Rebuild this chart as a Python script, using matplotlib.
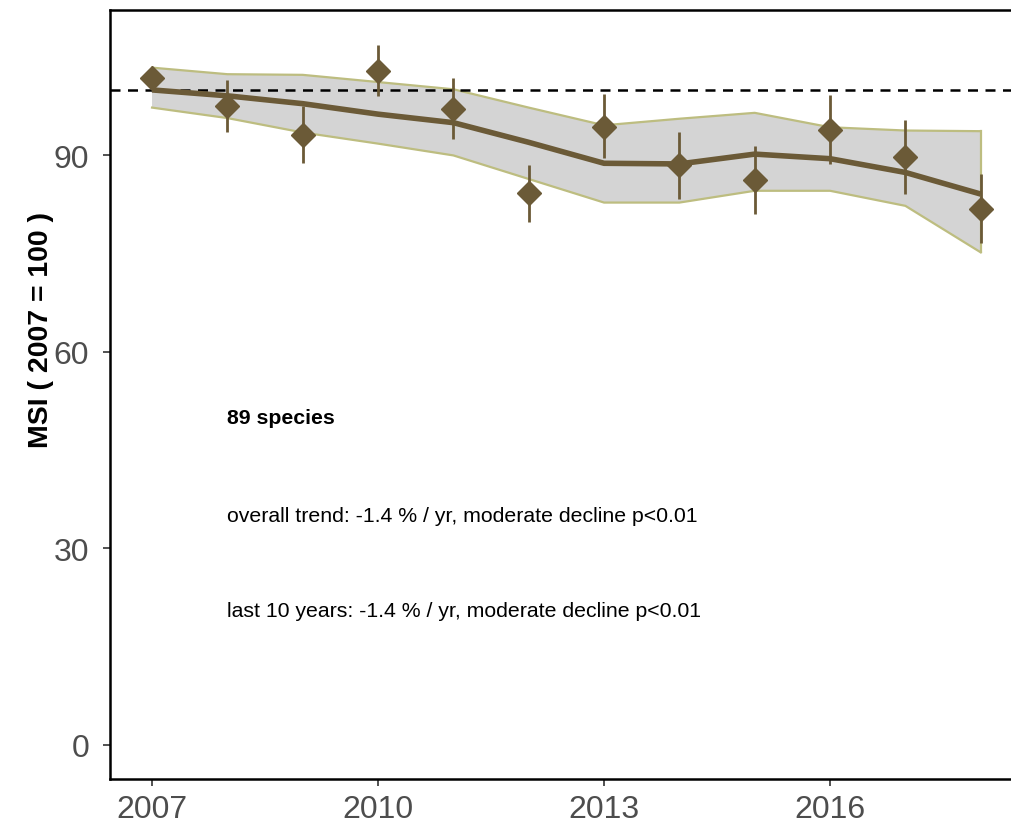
import numpy as np
import matplotlib
matplotlib.use("Agg")
import matplotlib.pyplot as plt

plt.rcParams["font.family"] = ["Liberation Sans", "DejaVu Sans"]

# index values
years = [2007, 2008, 2009, 2010, 2011, 2012, 2013, 2014, 2015, 2016, 2017, 2018]
msi = [101.8, 97.5, 93.1, 102.9, 97.1, 84.2, 94.4, 88.5, 86.2, 93.9, 89.7, 81.8]
msi_hi = [101.8, 101.5, 97.6, 106.9, 101.8, 88.5, 99.3, 93.6, 91.4, 99.2, 95.4, 87.1]
msi_lo = [101.8, 93.6, 88.9, 99.0, 92.5, 79.9, 89.6, 83.4, 81.1, 88.7, 84.1, 76.7]

trend = [100.0, 99.1, 97.9, 96.3, 95.0, 92.0, 88.8, 88.7, 90.2, 89.5, 87.4, 84.1]
band_hi = [103.4, 102.4, 102.3, 101.2, 100.1, 97.3, 94.6, 95.6, 96.5, 94.3, 93.8, 93.7]
band_lo = [97.3, 95.7, 93.5, 91.8, 90.0, 86.4, 82.8, 82.8, 84.6, 84.6, 82.3, 75.2]

notes = ["89 species",
         "overall trend: -1.4 % / yr, moderate decline p<0.01",
         "last 10 years: -1.4 % / yr, moderate decline p<0.01"]
note_y = [50, 35, 20.5]

BROWN = "#6B5A37"
FILL = "#D4D4D4"
EDGE = "#BDBD80"

fig = plt.figure(figsize=(10.11, 8.28), dpi=100)
ax = fig.add_axes([110 / 1011, 1 - 780 / 828, 905 / 1011, 769 / 828])

ax.fill_between(years, band_lo, band_hi, facecolor=FILL, edgecolor="none", zorder=1)
ax.plot(years, band_hi, color=EDGE, linewidth=1.6, zorder=2)
ax.plot(years, band_lo, color=EDGE, linewidth=1.6, zorder=2)
ax.plot([years[-1], years[-1]], [band_lo[-1], band_hi[-1]], color=EDGE, linewidth=1.6, zorder=2)

ax.axhline(100, color="black", linewidth=1.8, linestyle=(0, (4, 3)), zorder=3)
ax.plot(years, trend, color=BROWN, linewidth=4, solid_capstyle="butt", zorder=4)

msi_arr = np.array(msi)
yerr = [msi_arr - np.array(msi_lo), np.array(msi_hi) - msi_arr]
ax.errorbar(years, msi, yerr=yerr, fmt="D", color=BROWN, markersize=12.5,
            elinewidth=2, capsize=0, zorder=5)

for i, (txt, yy) in enumerate(zip(notes, note_y)):
    ax.text(2008, yy, txt, fontsize=15.3, va="center", ha="left",
            fontweight="bold" if i == 0 else "normal", color="black")

ax.set_xlim(2006.442, 2018.455)
ax.set_ylim(-5.2, 112.2)
ax.set_xticks([2007, 2010, 2013, 2016])
ax.set_yticks([0, 30, 60, 90])
ax.tick_params(labelsize=23, labelcolor="#4D4D4D", color="#333333",
               length=5, width=1.2)
ax.tick_params(axis="x", pad=6)
ax.tick_params(axis="y", pad=10)
ax.set_ylabel("MSI ( 2007 = 100 )", fontsize=20.5, fontweight="bold")
ax.yaxis.set_label_coords(-0.062, 0.585)

for side in ["left", "bottom", "top", "right"]:
    ax.spines[side].set_linewidth(1.8)
    ax.spines[side].set_color("black")

fig.savefig("out.png", dpi=100, facecolor="white")
